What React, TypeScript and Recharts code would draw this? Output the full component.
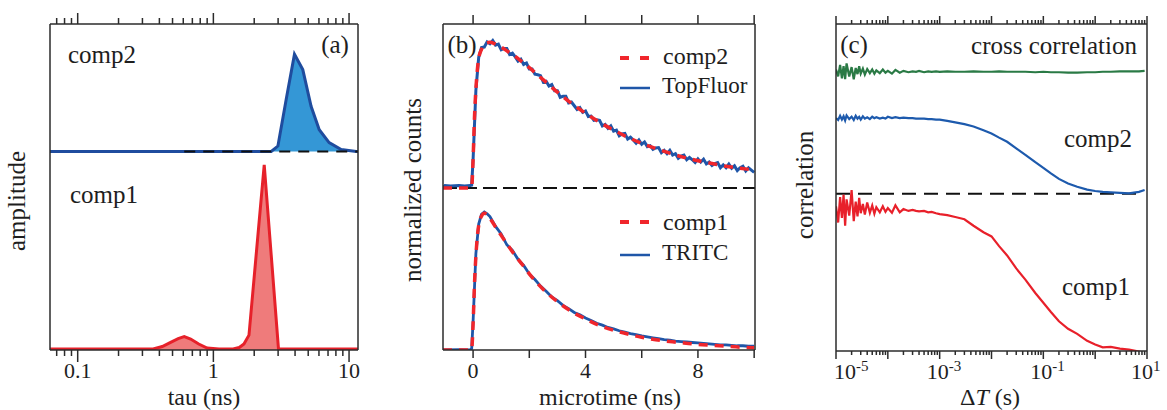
import React from "react";
import { ComposedChart, Line, Area, XAxis, YAxis, ReferenceLine } from "recharts";

const FONT = '"Liberation Serif", "Times New Roman", "DejaVu Serif", serif';
const INK = "#2b2b2b";
const TEXT = "#1e1e1e";

// ---------- (a) lifetime distributions, tau in ns ----------
const tauComp1 = [0.0625, 0.2, 0.36, 0.42, 0.48, 0.55, 0.61, 0.68, 0.78, 0.9, 1.1, 1.4, 1.55, 1.68, 1.83, 2.37, 3.02, 4, 11.64];
const ampComp1 = [0.02, 0.02, 0.02, 0.07, 0.15, 0.23, 0.27, 0.22, 0.12, 0.04, 0.02, 0.02, 0.05, 0.12, 0.3, 3.73, 0.02, 0.02, 0.02];
const tauComp2 = [0.0625, 1, 2.67, 2.99, 3.44, 3.96, 4.56, 5.25, 6.03, 7.13, 8.75, 11.3, 11.64];
const ampComp2 = [0, 0, 0, 0.11, 1.05, 1.96, 1.65, 0.91, 0.44, 0.18, 0.04, 0, 0];
const COMP2_BASE = 4; // comp2 is drawn shifted up by 4 ticks
const tauLabels = [0.1, 1, 10];

// ---------- (b) decays, microtime in ns ----------
const fitTime = [-1.07, -0.3, -0.1, -0.05, 0, 0.05, 0.1, 0.15, 0.2, 0.3, 0.4, 0.5, 0.6, 0.8, 1.0, 1.25, 1.5, 1.75, 2.0, 2.5, 3.0, 3.5, 4.0, 4.5, 5.0, 5.5, 6.0, 6.5, 7.0, 7.5, 8.0, 8.5, 9.0, 9.5, 10.0];
const comp2Fit = [0, 0, 0, 0.02, 0.6, 1.5, 2.1, 2.5, 2.75, 2.95, 3.05, 3.09, 3.1, 3.06, 3.0, 2.9, 2.8, 2.68, 2.56, 2.3, 2.04, 1.8, 1.59, 1.4, 1.23, 1.08, 0.95, 0.84, 0.74, 0.65, 0.58, 0.52, 0.46, 0.42, 0.38];
const comp1Fit = [0, 0, 0, 0.02, 0.55, 1.4, 2.0, 2.4, 2.65, 2.85, 2.91, 2.88, 2.8, 2.62, 2.44, 2.22, 2.01, 1.82, 1.62, 1.29, 1.03, 0.82, 0.66, 0.52, 0.42, 0.34, 0.27, 0.22, 0.18, 0.15, 0.12, 0.1, 0.08, 0.06, 0.05];

const topFluorTime = [
  -1.07, -1.0, -0.8, -0.5, -0.3, -0.1, -0.05,
  0.0, 0.1, 0.2, 0.3, 0.4, 0.5, 0.6, 0.7, 0.8, 0.9,
  1.0, 1.1, 1.2, 1.3, 1.4, 1.5, 1.6, 1.7, 1.8, 1.9,
  2.0, 2.1, 2.2, 2.3, 2.4, 2.5, 2.6, 2.7, 2.8, 2.9,
  3.0, 3.1, 3.2, 3.3, 3.4, 3.5, 3.6, 3.7, 3.8, 3.9,
  4.0, 4.1, 4.2, 4.3, 4.4, 4.5, 4.6, 4.7, 4.8, 4.9,
  5.0, 5.1, 5.2, 5.3, 5.4, 5.5, 5.6, 5.7, 5.8, 5.9,
  6.0, 6.1, 6.2, 6.3, 6.4, 6.5, 6.6, 6.7, 6.8, 6.9,
  7.0, 7.1, 7.2, 7.3, 7.4, 7.5, 7.6, 7.7, 7.8, 7.9,
  8.0, 8.1, 8.2, 8.3, 8.4, 8.5, 8.6, 8.7, 8.8, 8.9,
  9.0, 9.1, 9.2, 9.3, 9.4, 9.5, 9.6, 9.7, 9.8, 9.9,
  10.0,
];
const topFluor = [
  0.01, 0.05, 0.04, 0.05, 0.04, 0.05, 0.06,
  0.6, 2.08, 2.78, 2.99, 3.0, 3.11, 3.07, 3.14, 3.04, 3.06,
  2.94, 2.97, 2.97, 2.84, 2.87, 2.79, 2.7, 2.74, 2.63, 2.66,
  2.53, 2.53, 2.42, 2.41, 2.39, 2.25, 2.27, 2.17, 2.2, 2.07,
  2.07, 1.93, 1.95, 1.95, 1.81, 1.83, 1.75, 1.67, 1.71, 1.61,
  1.64, 1.52, 1.53, 1.44, 1.45, 1.44, 1.32, 1.35, 1.27, 1.32,
  1.21, 1.23, 1.11, 1.15, 1.16, 1.04, 1.08, 1.02, 0.95, 1.02,
  0.93, 0.98, 0.88, 0.9, 0.82, 0.85, 0.86, 0.75, 0.8, 0.73,
  0.8, 0.7, 0.73, 0.63, 0.68, 0.7, 0.6, 0.65, 0.6, 0.54,
  0.62, 0.55, 0.61, 0.51, 0.55, 0.48, 0.52, 0.54, 0.43, 0.49,
  0.43, 0.51, 0.42, 0.47, 0.37, 0.43, 0.46, 0.36, 0.43, 0.38,
  0.33,
];

const tritcTime = [
  -1.07, -0.5, -0.1, -0.05, 0.0, 0.1, 0.2, 0.3, 0.4, 0.5, 0.6,
  0.8, 1.0, 1.2, 1.4, 1.6, 1.8, 2.0, 2.2, 2.4, 2.6, 2.8, 3.0, 3.2, 3.4, 3.6, 3.8,
  4.0, 4.2, 4.4, 4.6, 4.8, 5.0, 5.2, 5.4, 5.6, 5.8, 6.0, 6.2, 6.4, 6.6, 6.8,
  7.0, 7.2, 7.4, 7.6, 7.8, 8.0, 8.2, 8.4, 8.6, 8.8, 9.0, 9.2, 9.4, 9.6, 9.8, 10.0,
];
const tritc = [
  0.0, 0.01, 0.0, 0.03, 0.6, 2.05, 2.68, 2.89, 2.94, 2.9, 2.84,
  2.63, 2.47, 2.24, 2.12, 1.93, 1.8, 1.62, 1.5, 1.36, 1.25, 1.13, 1.05, 0.95, 0.88, 0.8, 0.75,
  0.68, 0.63, 0.57, 0.53, 0.48, 0.45, 0.41, 0.38, 0.35, 0.33, 0.3, 0.28, 0.26, 0.24, 0.22,
  0.21, 0.19, 0.18, 0.17, 0.16, 0.15, 0.14, 0.13, 0.12, 0.11, 0.11, 0.1, 0.09, 0.09, 0.08, 0.08,
];
const UPPER_BASE = 3.45; // TopFluor / comp2 decay sits on the dashed line
const timeTicks = [0, 2, 4, 6, 8, 10];
const timeLabels = [0, 4, 8];

// ---------- (c) correlation curves, lag time in s ----------
const lag = [
  1.0e-5, 1.1e-5, 1.2e-5, 1.3e-5, 1.4e-5, 1.5e-5, 1.6e-5, 1.8e-5, 2.0e-5, 2.2e-5,
  2.4e-5, 2.6e-5, 2.8e-5, 3.0e-5, 3.3e-5, 3.6e-5, 4.0e-5, 4.5e-5, 5.0e-5, 5.5e-5,
  6.0e-5, 7.0e-5, 8.0e-5, 9.0e-5, 1.0e-4, 1.2e-4, 1.4e-4, 1.7e-4, 2.0e-4, 2.5e-4,
  3.0e-4, 3.5e-4, 4.0e-4, 5.0e-4, 6.0e-4, 7.0e-4, 8.5e-4, 1.0e-3, 1.4e-3, 2.0e-3,
  3.0e-3, 4.5e-3, 7.0e-3, 1.0e-2, 1.4e-2, 2.0e-2, 3.0e-2, 4.5e-2, 7.0e-2, 0.1,
  0.14, 0.2, 0.3, 0.45, 0.7, 1.0, 1.4, 2.0, 3.0, 4.5, 7.0, 9.0,
];
const crossCorr = [
  6.05, 5.9, 6.15, 5.86, 6.12, 5.84, 6.18, 5.9, 6.1, 5.84,
  6.08, 5.95, 6.12, 5.96, 6.07, 5.94, 6.06, 5.97, 6.05, 5.96,
  6.03, 5.97, 6.05, 5.98, 6.02, 5.96, 6.04, 5.98, 6.02, 5.99,
  6.01, 6.0, 6.02, 5.99, 6.01, 6.0, 6.01, 6.0, 6.01, 6.0,
  6.0, 6.01, 6.0, 6.0, 6.01, 6.0, 6.0, 6.0, 5.99, 6.0,
  5.99, 5.99, 5.98, 5.98, 5.99, 5.99, 6.0, 6.0, 6.01, 6.01, 6.01, 6.02,
];
const comp2Corr = [
  5.0, 4.96, 5.05, 4.97, 5.04, 4.95, 5.06, 4.98, 5.03, 4.96,
  5.05, 4.99, 5.03, 4.97, 5.04, 4.99, 5.02, 4.98, 5.03, 5.0,
  5.02, 4.99, 5.01, 4.99, 5.03, 5.0, 5.02, 5.0, 5.01, 5.0,
  5.0, 4.99, 4.99, 4.99, 4.98, 4.98, 4.97, 4.97, 4.94, 4.91,
  4.87, 4.82, 4.74, 4.67, 4.58, 4.49, 4.35, 4.21, 4.05, 3.93,
  3.81, 3.69, 3.59, 3.52, 3.46, 3.43, 3.41, 3.4, 3.39, 3.38, 3.41, 3.45,
];
const comp1Corr = [
  3.1, 2.75, 3.3, 2.85, 3.35, 2.68, 3.25, 2.9, 3.45, 2.78,
  3.2, 2.88, 3.28, 2.95, 3.15, 2.92, 3.18, 2.96, 3.12, 2.94,
  3.08, 2.97, 3.1, 2.98, 3.06, 2.96, 3.12, 2.97, 3.04, 3.0,
  3.02, 3.0, 2.99, 3.0, 2.97, 2.98, 2.95, 2.93, 2.91, 2.87,
  2.82, 2.68, 2.54, 2.45, 2.24, 2.04, 1.76, 1.52, 1.23, 1.02,
  0.82, 0.62, 0.46, 0.35, 0.2, 0.12, 0.06, 0.07, 0.03, 0.01, -0.03, -0.07,
];
const CORR_BASE = 3.37;
const lagLabels: Record<number, string> = { [-5]: "-5", [-3]: "-3", [-1]: "-1", 1: "1" };

const yTicks = [0, 1, 2, 3, 4, 5, 6];

// ---------- helpers ----------
const pts = (xs: number[], ys: number[], off = 0) => xs.map((t, i) => ({ t, y: ys[i] + off }));

const isDecade = (v: number) => Math.abs(Math.log10(v) - Math.round(Math.log10(v))) < 1e-6;

function logTicks(lo: number, hi: number) {
  const out: number[] = [];
  for (let k = Math.floor(Math.log10(lo)); k <= Math.ceil(Math.log10(hi)); k++) {
    for (let m = 1; m <= 9; m++) {
      const v = parseFloat((m * Math.pow(10, k)).toPrecision(6));
      if (v >= lo && v <= hi) out.push(v);
    }
  }
  return out;
}

// text with the serif font set inline so no page css can override it
function T(props: any) {
  const { size = 25, style, ...rest } = props;
  return <text fill={TEXT} style={{ fontFamily: FONT, fontSize: size, ...style }} {...rest} />;
}

type TickOpts = {
  side: "top" | "bottom";
  long: number;
  short: number;
  major: (v: number) => boolean;
  label?: (v: number, x: number, y: number) => React.ReactNode;
};

function makeTick(o: TickOpts) {
  return (p: any) => {
    const v = p.payload.value;
    const d = o.side === "top" ? -1 : 1;
    const len = o.major(v) ? o.long : o.short;
    return (
      <g>
        <line x1={p.x} x2={p.x} y1={p.y} y2={p.y + d * len} stroke={INK} strokeWidth={1.5} />
        {o.label ? o.label(v, p.x, p.y) : null}
      </g>
    );
  };
}

const axisLine = { stroke: INK, strokeWidth: 1.5 };
const tickLine = { stroke: INK, strokeWidth: 1.5 };

function yAxes(domain: [number, number], lLen: number, rLen: number) {
  return [
    <YAxis key="l" yAxisId="l" type="number" domain={domain} ticks={yTicks} allowDataOverflow
      width={10} tick={false} tickSize={lLen} tickLine={tickLine} axisLine={axisLine} />,
    <YAxis key="r" yAxisId="r" orientation="right" type="number" domain={domain} ticks={yTicks} allowDataOverflow
      width={10} tick={false} tickSize={rLen} tickLine={tickLine} axisLine={axisLine} />,
  ];
}

// ---------- panels ----------
function PanelA() {
  const domain: [number, number] = [0.0625, 11.64];
  const ticks = logTicks(domain[0], domain[1]);
  const bottom = makeTick({
    side: "bottom", long: 12, short: 6, major: isDecade,
    label: (v, x, y) =>
      tauLabels.includes(v) ? <T x={x} y={y + 28} size={22} textAnchor="middle">{String(v)}</T> : null,
  });
  const top = makeTick({ side: "top", long: 11, short: 6, major: isDecade });
  return (
    <ComposedChart width={380} height={410} margin={{ top: 14, right: 12, bottom: 30, left: 40 }}>
      <XAxis xAxisId="b" dataKey="t" type="number" scale="log" domain={domain} ticks={ticks} interval={0}
        allowDataOverflow height={30} tickSize={0} tickMargin={0} tickLine={false} axisLine={axisLine} tick={bottom} />
      <XAxis xAxisId="t" orientation="top" dataKey="t" type="number" scale="log" domain={domain} ticks={ticks} interval={0}
        allowDataOverflow height={10} tickSize={0} tickMargin={0} tickLine={false} axisLine={axisLine} tick={top} />
      {yAxes([0, 6.57], 10, 10)}
      <Area xAxisId="b" yAxisId="l" data={pts(tauComp1, ampComp1)} dataKey="y" type="linear" baseValue={0}
        stroke="#e6212a" strokeWidth={3} fill="#ef7b7b" fillOpacity={1} isAnimationActive={false} dot={false} activeDot={false} />
      <Area xAxisId="b" yAxisId="l" data={pts(tauComp2, ampComp2, COMP2_BASE)} dataKey="y" type="linear" baseValue={COMP2_BASE}
        stroke="#1f4c9e" strokeWidth={3} fill="#3497d6" fillOpacity={1} isAnimationActive={false} dot={false} activeDot={false} />
      <ReferenceLine xAxisId="b" yAxisId="l" segment={[{ x: 0.61, y: COMP2_BASE }, { x: 11.64, y: COMP2_BASE }]}
        stroke="#111" strokeWidth={2} strokeDasharray="11 8" />
    </ComposedChart>
  );
}

function PanelB() {
  const domain: [number, number] = [-1.07, 10.03];
  const bottom = makeTick({
    side: "bottom", long: 8, short: 8, major: () => true,
    label: (v, x, y) =>
      timeLabels.includes(v) ? <T x={x} y={y + 28} size={22} textAnchor="middle">{String(v)}</T> : null,
  });
  const top = makeTick({ side: "top", long: 9, short: 9, major: () => true });
  return (
    <ComposedChart width={400} height={410} margin={{ top: 14, right: 15, bottom: 30, left: 53 }}>
      <XAxis xAxisId="b" dataKey="t" type="number" domain={domain} ticks={timeTicks} interval={0}
        allowDataOverflow height={30} tickSize={0} tickMargin={0} tickLine={false} axisLine={axisLine} tick={bottom} />
      <XAxis xAxisId="t" orientation="top" dataKey="t" type="number" domain={domain} ticks={timeTicks} interval={0}
        allowDataOverflow height={10} tickSize={0} tickMargin={0} tickLine={false} axisLine={axisLine} tick={top} />
      {yAxes([0, 6.94], 10, 10)}
      <ReferenceLine xAxisId="b" yAxisId="l" y={UPPER_BASE} stroke="#111" strokeWidth={2} strokeDasharray="14 6" />
      <Line xAxisId="b" yAxisId="l" data={pts(topFluorTime, topFluor, UPPER_BASE)} dataKey="y" type="linear"
        stroke="#1f56a8" strokeWidth={3} dot={false} activeDot={false} isAnimationActive={false} />
      <Line xAxisId="b" yAxisId="l" data={pts(tritcTime, tritc)} dataKey="y" type="linear"
        stroke="#1f56a8" strokeWidth={2.8} dot={false} activeDot={false} isAnimationActive={false} />
      <Line xAxisId="b" yAxisId="l" data={pts(fitTime, comp2Fit, UPPER_BASE)} dataKey="y" type="monotone"
        stroke="#f0262c" strokeWidth={3.5} strokeDasharray="9 7" dot={false} activeDot={false} isAnimationActive={false} />
      <Line xAxisId="b" yAxisId="l" data={pts(fitTime, comp1Fit)} dataKey="y" type="monotone"
        stroke="#f0262c" strokeWidth={3.5} strokeDasharray="9 7" dot={false} activeDot={false} isAnimationActive={false} />
    </ComposedChart>
  );
}

function PanelC() {
  const domain: [number, number] = [1e-5, 10];
  const ticks = logTicks(domain[0], domain[1]);
  const bottom = makeTick({
    side: "bottom", long: 8, short: 4, major: isDecade,
    label: (v, x, y) => {
      const k = Math.round(Math.log10(v));
      if (!isDecade(v) || lagLabels[k] === undefined) return null;
      const sx = k === -5 ? x - 2 : k === 1 ? x - 16 : x - 13;
      return (
        <T x={sx} y={y + 28} size={22}>
          10<tspan dy={-8} style={{ fontSize: 15 }}>{lagLabels[k]}</tspan>
        </T>
      );
    },
  });
  const top = makeTick({ side: "top", long: 8, short: 4, major: isDecade });
  return (
    <ComposedChart width={387} height={410} margin={{ top: 14, right: 10, bottom: 29, left: 46 }}>
      <XAxis xAxisId="b" dataKey="t" type="number" scale="log" domain={domain} ticks={ticks} interval={0}
        allowDataOverflow height={30} tickSize={0} tickMargin={0} tickLine={false} axisLine={axisLine} tick={bottom} />
      <XAxis xAxisId="t" orientation="top" dataKey="t" type="number" scale="log" domain={domain} ticks={ticks} interval={0}
        allowDataOverflow height={10} tickSize={0} tickMargin={0} tickLine={false} axisLine={axisLine} tick={top} />
      {yAxes([-0.02, 7.03], 9, 8)}
      <ReferenceLine xAxisId="b" yAxisId="l" segment={[{ x: 1e-5, y: CORR_BASE }, { x: 7, y: CORR_BASE }]}
        stroke="#111" strokeWidth={2} strokeDasharray="14 8" />
      <Line xAxisId="b" yAxisId="l" data={pts(lag, crossCorr)} dataKey="y" type="linear"
        stroke="#2a7a45" strokeWidth={2.2} dot={false} activeDot={false} isAnimationActive={false} />
      <Line xAxisId="b" yAxisId="l" data={pts(lag, comp2Corr)} dataKey="y" type="linear"
        stroke="#1d5aad" strokeWidth={2.2} dot={false} activeDot={false} isAnimationActive={false} />
      <Line xAxisId="b" yAxisId="l" data={pts(lag, comp1Corr)} dataKey="y" type="linear"
        stroke="#e8202a" strokeWidth={2.2} dot={false} activeDot={false} isAnimationActive={false} />
    </ComposedChart>
  );
}

function Annotations() {
  return (
    <svg width={1167} height={410} style={{ position: "absolute", left: 0, top: 0, pointerEvents: "none" }}>
      {/* (a) */}
      <T x={335} y={53} textAnchor="middle">(a)</T>
      <T x={68} y={63}>comp2</T>
      <T x={70} y={203}>comp1</T>
      <T x={204} y={404.5} size={24} textAnchor="middle">tau (ns)</T>
      <T transform="translate(25,201) rotate(-90)" textAnchor="middle">amplitude</T>
      {/* (b) */}
      <T x={462} y={53} textAnchor="middle">(b)</T>
      <line x1={620} x2={650} y1={58} y2={58} stroke="#f0262c" strokeWidth={4} strokeDasharray="9 11" />
      <T x={663} y={64} size={24}>comp2</T>
      <line x1={620} x2={650} y1={88} y2={88} stroke="#1f56a8" strokeWidth={2.5} />
      <T x={662} y={93} size={23}>TopFluor</T>
      <line x1={620} x2={650} y1={222} y2={222} stroke="#f0262c" strokeWidth={4} strokeDasharray="9 11" />
      <T x={663} y={230} size={24}>comp1</T>
      <line x1={620} x2={650} y1={255} y2={255} stroke="#1f56a8" strokeWidth={2.5} />
      <T x={662} y={260} size={23}>TRITC</T>
      <T x={610} y={404.5} size={24} textAnchor="middle">microtime (ns)</T>
      <T transform="translate(421,190) rotate(-90)" textAnchor="middle">normalized counts</T>
      {/* (c) */}
      <T x={854} y={53} textAnchor="middle">(c)</T>
      <T x={1137} y={54} textAnchor="end">cross correlation</T>
      <T x={1132} y={147} textAnchor="end">comp2</T>
      <T x={1130} y={295} textAnchor="end">comp1</T>
      <T x={990} y={404.5} size={24} textAnchor="middle">
        Δ<tspan style={{ fontStyle: "italic" }}>T</tspan> (s)
      </T>
      <T transform="translate(813,185) rotate(-90)" textAnchor="middle">correlation</T>
    </svg>
  );
}

export default function App() {
  return (
    <div style={{ position: "absolute", left: 0, top: 0, width: 1167, height: 410, background: "#fff" }}>
      <div style={{ position: "absolute", left: 0, top: 0 }}><PanelA /></div>
      <div style={{ position: "absolute", left: 380, top: 0 }}><PanelB /></div>
      <div style={{ position: "absolute", left: 780, top: 0 }}><PanelC /></div>
      <Annotations />
    </div>
  );
}
